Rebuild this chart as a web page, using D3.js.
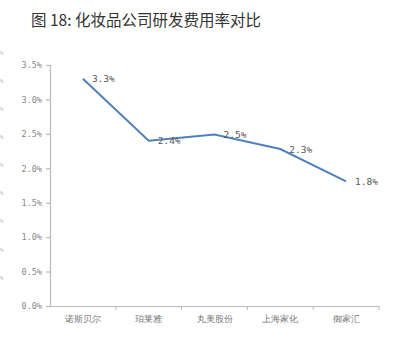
<!DOCTYPE html>
<html>
<head>
<meta charset="utf-8">
<script src="https://cdn.jsdelivr.net/npm/d3@7"></script>
<style>
  body { margin: 0; background: #fff; }
  svg { display: block; }
  .tick text { font-family: "DejaVu Sans Mono", monospace; }
</style>
</head>
<body>
<svg id="chart" width="399" height="354"></svg>
<script>
const title = '图 18: 化妆品公司研发费用率对比';
const companies = ['诺斯贝尔', '珀莱雅', '丸美股份', '上海家化', '御家汇'];
const rdRate = [3.3, 2.4, 2.49, 2.28, 1.81];
const rateLabels = ['3.3%', '2.4%', '2.5%', '2.3%', '1.8%'];
const yTicks = [0, 0.5, 1, 1.5, 2, 2.5, 3, 3.5];
// only the % signs of a neighbouring chart's axis show at the left edge
const ghostTicks = [0, 1, 2, 3, 4, 5, 6, 7, 8];

const svg = d3.select('#chart');
const margin = { left: 50, right: 20, top: 65, bottom: 48 };
const width = 399, height = 354;

svg.append('text')
  .attr('x', 31)
  .attr('y', 26)
  .attr('font-family', '"Noto Sans CJK SC", sans-serif')
  .attr('font-size', 15.5)
  .attr('fill', '#333')
  .text(title);

const x = d3.scaleBand()
  .domain(companies)
  .range([margin.left, width - margin.right]);

const y = d3.scaleLinear()
  .domain([0, 3.5])
  .range([height - margin.bottom, margin.top]);

const yAxis = svg.append('g')
  .attr('transform', `translate(${margin.left},0)`)
  .call(d3.axisLeft(y).tickValues(yTicks).tickSize(4).tickPadding(4)
    .tickFormat(d => d.toFixed(1) + '%'));
yAxis.selectAll('text').attr('font-size', 8.5).attr('fill', '#888');

const xAxis = svg.append('g')
  .attr('transform', `translate(0,${height - margin.bottom})`)
  .call(d3.axisBottom(x).tickSize(0).tickPadding(10));
xAxis.selectAll('text')
  .attr('font-family', '"Noto Sans CJK SC", sans-serif')
  .attr('font-size', 9)
  .attr('fill', '#777');
// tick marks between categories
xAxis.selectAll('.sep')
  .data(companies)
  .join('line')
  .attr('x1', d => x(d) + x.bandwidth())
  .attr('x2', d => x(d) + x.bandwidth())
  .attr('y1', 0)
  .attr('y2', 4)
  .attr('stroke', '#bbb');

svg.selectAll('.domain, .tick line').attr('stroke', '#bbb').attr('stroke-width', 1.2);

const ghost = d3.scaleLinear().domain([0, 8]).range([278, 53]);
svg.selectAll('.ghost')
  .data(ghostTicks)
  .join('text')
  .attr('class', 'ghost')
  .attr('x', 0)
  .attr('y', d => ghost(d))
  .attr('dominant-baseline', 'middle')
  .attr('font-family', '"DejaVu Sans Mono", monospace')
  .attr('font-size', 6)
  .attr('fill', '#bbb')
  .text('%');

const line = d3.line()
  .x((d, i) => x(companies[i]) + x.bandwidth() / 2)
  .y(d => y(d));

svg.append('path')
  .datum(rdRate)
  .attr('d', line)
  .attr('fill', 'none')
  .attr('stroke', '#4f81bd')
  .attr('stroke-width', 2);

svg.selectAll('.val')
  .data(rdRate)
  .join('text')
  .attr('class', 'val')
  .attr('x', (d, i) => x(companies[i]) + x.bandwidth() / 2 + 9)
  .attr('y', d => y(d) + 1)
  .attr('dominant-baseline', 'middle')
  .attr('font-family', '"DejaVu Sans Mono", monospace')
  .attr('font-size', 9.5)
  .attr('fill', '#555')
  .text((d, i) => rateLabels[i]);
</script>
</body>
</html>
